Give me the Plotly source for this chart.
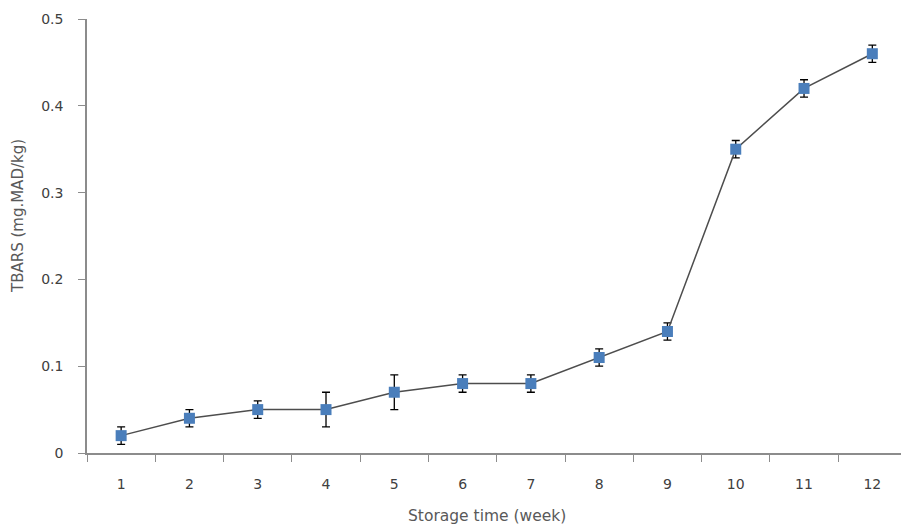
import plotly.graph_objects as go

# Storage week and TBARS measurements (mean ± SD)
weeks = ["1", "2", "3", "4", "5", "6", "7", "8", "9", "10", "11", "12"]
tbars = [0.02, 0.04, 0.05, 0.05, 0.07, 0.08, 0.08, 0.11, 0.14, 0.35, 0.42, 0.46]
tbars_sd = [0.01, 0.01, 0.01, 0.02, 0.02, 0.01, 0.01, 0.01, 0.01, 0.01, 0.01, 0.01]
y_ticks = [0, 0.1, 0.2, 0.3, 0.4, 0.5]
y_tick_text = ["0", "0.1", "0.2", "0.3", "0.4", "0.5"]
x_title = "Storage time (week)"
y_title = "TBARS (mg.MAD/kg)"

axis_color = "#8c8c8c"
text_color = "#404040"
title_color = "#595959"
font_family = "DejaVu Sans"

fig = go.Figure()
fig.add_trace(go.Scatter(
    x=weeks,
    y=tbars,
    mode="lines+markers",
    line=dict(color="#4d4d4d", width=1.5),
    marker=dict(symbol="square", size=11, color="#4a7ebb",
                line=dict(width=0)),
    error_y=dict(type="data", array=tbars_sd, visible=True,
                 color="#000000", thickness=1.3, width=4),
    showlegend=False,
))

fig.update_layout(
    width=901,
    height=530,
    margin=dict(l=87, r=0, t=19, b=77),
    paper_bgcolor="white",
    plot_bgcolor="white",
    font=dict(family=font_family, size=14, color=text_color),
    xaxis=dict(
        type="category",
        range=[-0.5, 11.42],
        tickson="boundaries",
        ticks="outside",
        ticklen=7,
        tickwidth=1.3,
        tickcolor=axis_color,
        showline=True,
        linecolor=axis_color,
        linewidth=1.5,
        showgrid=False,
        zeroline=False,
        ticklabelstandoff=17,
        tickfont=dict(size=14, color=text_color),
    ),
    yaxis=dict(
        range=[0, 0.5],
        tickvals=y_ticks,
        ticktext=y_tick_text,
        ticks="outside",
        ticklen=7,
        tickwidth=1.3,
        tickcolor=axis_color,
        showline=True,
        linecolor=axis_color,
        linewidth=1.5,
        showgrid=False,
        zeroline=False,
        ticklabelstandoff=12,
        tickfont=dict(size=14, color=text_color),
    ),
    annotations=[
        dict(text=x_title, xref="paper", yref="paper",
             x=(487 - 87) / 814, y=-63 / 434, xanchor="center", yanchor="middle",
             showarrow=False, font=dict(size=15.5, color=title_color)),
        dict(text=y_title, xref="paper", yref="paper", textangle=-90,
             x=-69 / 814, y=(453 - 216) / 434, xanchor="center", yanchor="middle",
             showarrow=False, font=dict(size=15, color=title_color)),
    ],
)

fig.write_html("out.html")
